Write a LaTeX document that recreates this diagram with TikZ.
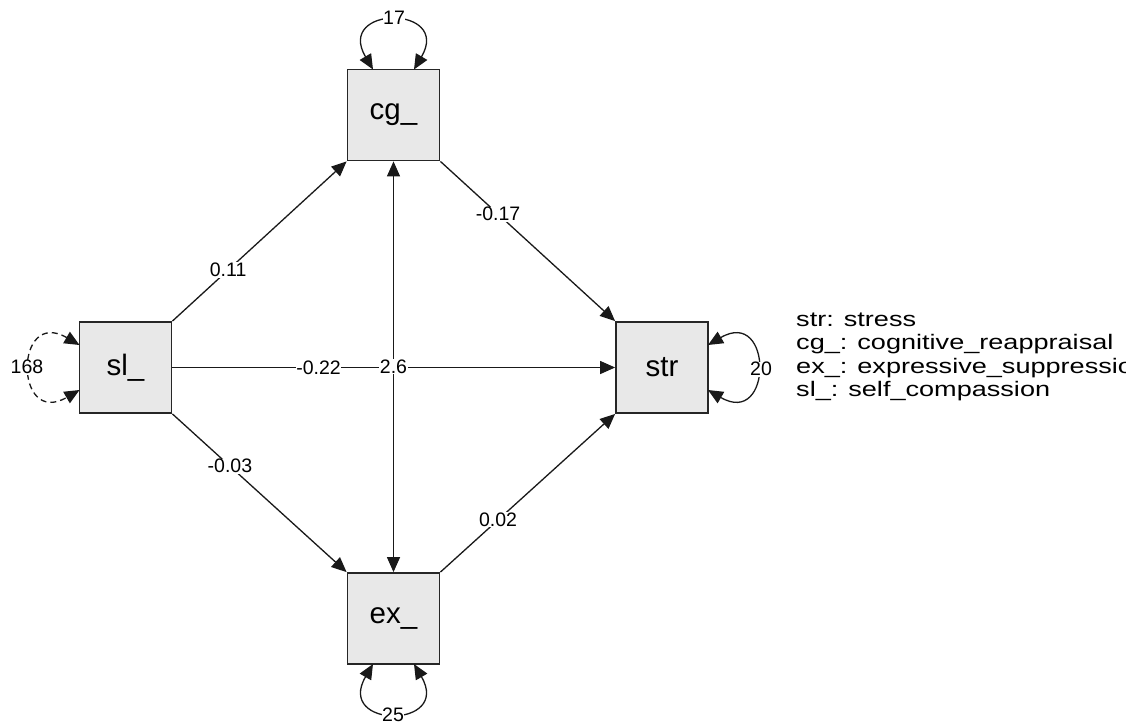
\documentclass[tikz,border=0pt]{standalone}
\usepackage{fontspec}
\setmainfont{Liberation Sans}
\newfontfamily\legfont{Liberation Sans}[FakeStretch=1.29]
\usetikzlibrary{arrows.meta}
\begin{document}
\begin{tikzpicture}[x=1pt,y=-1pt,
  var/.style={draw=black!85, line width=1.8pt, fill=black!9, minimum width=92pt, minimum height=91pt, inner sep=0pt, font=\fontsize{29.5}{34}\selectfont},
  pth/.style={line width=1.3pt, draw=black!90, -{Triangle[length=15pt,width=13pt]}},
  dbl/.style={line width=1.3pt, draw=black!90, {Triangle[length=15pt,width=13pt]}-{Triangle[length=15pt,width=13pt]}},
  lab/.style={fill=white, inner sep=0.6pt, font=\fontsize{19.5}{22}\selectfont},
  leg/.style={anchor=base west, inner sep=0pt, font=\legfont\fontsize{21}{23}\selectfont}]
\clip (0,0) rectangle (1126,726);
\fill[white] (0,0) rectangle (1126,726);
% variables
\node[var] (cg) at (393.5,115) {cg\_};
\node[var] (sl) at (125.5,367.5) {sl\_};
\node[var] (str) at (662,367.5) {str};
\node[var] (ex) at (393.5,618.5) {ex\_};
% regressions
\draw[pth] (sl.north east) -- node[lab, pos=0.32] {0.11} (cg.south west);
\draw[pth] (sl.east) -- node[lab, pos=0.33] {-0.22} (str.west);
\draw[pth] (sl.south east) -- node[lab, pos=0.33] {-0.03} (ex.north west);
\draw[pth] (cg.south east) -- node[lab, pos=0.33] {-0.17} (str.north west);
\draw[pth] (ex.north east) -- node[lab, pos=0.33] {0.02} (str.south west);
\draw[dbl] (cg.south) -- node[lab, pos=0.5] {2.6} (ex.north);
% residual variances
\coordinate (cgA) at (373,69.5);
\coordinate (cgB) at (414,69.5);
\draw[dbl] (cgA) .. controls (335,5) and (452,5) .. (cgB);
\node[lab] (vcg) at (394,18) {17};
\coordinate (exA) at (373,664);
\coordinate (exB) at (414,664);
\draw[dbl] (exA) .. controls (335,729) and (452,729) .. (exB);
\node[lab] (vex) at (393,715) {25};
\coordinate (slA) at (79.5,345);
\coordinate (slB) at (79.5,390);
\draw[dbl, dash pattern=on 6pt off 4pt] (slA) .. controls (14,307) and (14,428) .. (slB);
\node[lab] (vsl) at (27,367) {168};
\coordinate (stA) at (708,345);
\coordinate (stB) at (708,390);
\draw[dbl] (stA) .. controls (773,307) and (773,428) .. (stB);
\node[lab] (vst) at (761,369) {20};
% legend
\node[leg] (leg1) at (796,326) {str: stress};
\node[leg] (leg2) at (796,349.5) {cg\_: cognitive\_reappraisal};
\node[leg] (leg3) at (796,373) {ex\_: expressive\_suppression};
\node[leg] (leg4) at (796,396.5) {sl\_: self\_compassion};
\end{tikzpicture}
\end{document}
